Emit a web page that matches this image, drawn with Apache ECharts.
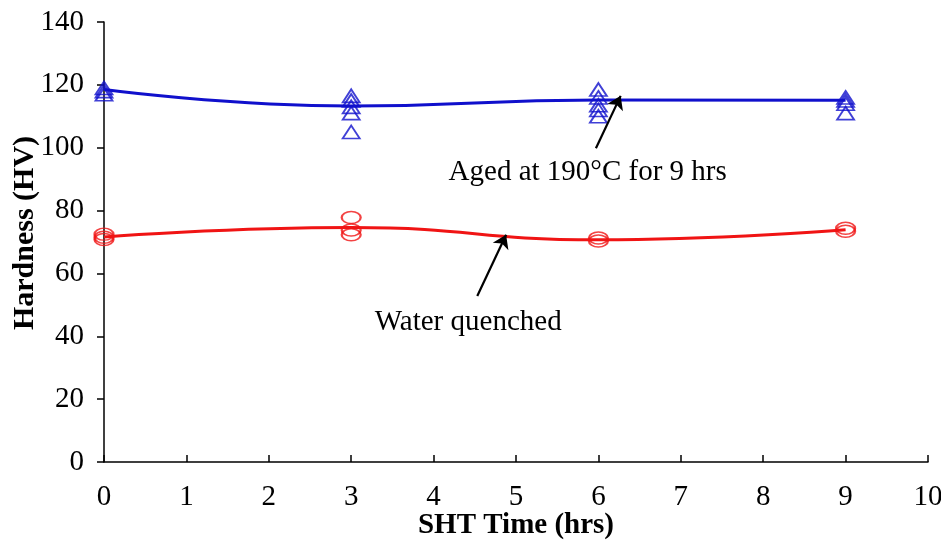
<!DOCTYPE html>
<html>
<head>
<meta charset="utf-8">
<script src="https://cdn.jsdelivr.net/npm/echarts@6/dist/echarts.min.js"></script>
<style>
  html, body { margin: 0; padding: 0; background: #fff; }
  #chart { width: 941px; height: 541px; }
</style>
</head>
<body>
<div id="chart"></div>
<script>
// SHT time points (hrs)
var shtTimes = [0, 3, 6, 9];
// fitted curves
var agedCurve = [118.5, 113.3, 115.2, 115.1];
var wqCurve = [71.6, 74.6, 70.7, 73.9];
// individual readings, one list per time point
var agedReadings = [
  [119, 118, 117],
  [116.5, 115, 113, 111, 105],
  [118.5, 116, 113.5, 112, 110],
  [116, 115, 114, 111]
];
var wqReadings = [
  [72.5, 71.5, 70.8],
  [77.8, 73.8, 72.3],
  [71.3, 70.3],
  [74.4, 73.4]
];
var xTicks = [0, 1, 2, 3, 4, 5, 6, 7, 8, 9, 10];
var yTicks = [0, 20, 40, 60, 80, 100, 120, 140];

var blue = '#1010cc';
var red = '#f01414';
var font = '"Liberation Serif", "Times New Roman", serif';

function toPoints(readings) {
  var out = [];
  readings.forEach(function (list, i) {
    list.forEach(function (v) { out.push([shtTimes[i], v]); });
  });
  return out;
}
function toLine(vals) {
  return vals.map(function (v, i) { return [shtTimes[i], v]; });
}

var chart = echarts.init(document.getElementById('chart'));
chart.setOption({
  animation: false,
  textStyle: { fontFamily: font },
  grid: { left: 104, right: 13, top: 22, bottom: 79, containLabel: false, outerBoundsMode: 'none' },
  xAxis: {
    type: 'value',
    min: 0, max: 10, interval: 1,
    name: 'SHT Time (hrs)',
    nameLocation: 'middle',
    nameGap: 49,
    nameMoveOverlap: false,
    nameTextStyle: { fontFamily: font, fontSize: 29, fontWeight: 'bold', color: '#000' },
    axisLine: { lineStyle: { color: '#000', width: 1.5 } },
    axisTick: { inside: true, length: 7, lineStyle: { color: '#000', width: 1.5 } },
    axisLabel: { fontFamily: font, fontSize: 29, color: '#000', margin: 21 },
    splitLine: { show: false }
  },
  yAxis: {
    type: 'value',
    min: 0, max: 140, interval: 20,
    name: 'Hardness (HV)',
    nameLocation: 'middle',
    nameGap: 64,
    nameMoveOverlap: false,
    nameTextStyle: { fontFamily: font, fontSize: 30, fontWeight: 'bold', color: '#000', padding: [0, 0, 0, 18] },
    axisLine: { show: true, lineStyle: { color: '#000', width: 1.5 } },
    axisTick: { show: true, length: 7, lineStyle: { color: '#000', width: 1.5 } },
    axisLabel: { fontFamily: font, fontSize: 29, color: '#000', margin: 20 },
    splitLine: { show: false }
  },
  series: [
    {
      name: 'aged curve',
      type: 'line',
      data: toLine(agedCurve),
      smooth: 0.5,
      showSymbol: false,
      lineStyle: { color: blue, width: 3 },
      markLine: {
        silent: true,
        symbol: ['none', 'arrow'],
        symbolSize: 13,
        lineStyle: { color: '#000', width: 2.2, type: 'solid' },
        label: { show: false },
        data: [
          [{ coord: [5.97, 99.8] }, { coord: [6.27, 116.5] }],
          [{ coord: [4.53, 52.8] }, { coord: [4.88, 72.3] }]
        ]
      }
    },
    {
      name: 'aged',
      type: 'scatter',
      data: toPoints(agedReadings),
      symbol: 'triangle',
      symbolSize: [17, 13],
      itemStyle: { color: 'transparent', borderColor: blue, borderWidth: 1.8 }
    },
    {
      name: 'wq curve',
      type: 'line',
      data: toLine(wqCurve),
      smooth: 0.5,
      showSymbol: false,
      lineStyle: { color: red, width: 3 }
    },
    {
      name: 'wq',
      type: 'scatter',
      data: toPoints(wqReadings),
      symbol: 'path://M0,6 A9,6 0 1,1 18,6 A9,6 0 1,1 0,6 Z',
      symbolSize: [19, 12],
      itemStyle: { color: 'transparent', borderColor: red, borderWidth: 1.8 }
    }
  ]
});

// annotation labels placed in data space
var notes = [
  { text: 'Aged at 190\u00B0C for 9 hrs', at: [5.87, 92.3] },
  { text: 'Water quenched', at: [4.42, 44.5] }
];
chart.setOption({
  graphic: notes.map(function (n) {
    var p = chart.convertToPixel({ gridIndex: 0 }, n.at);
    return {
      type: 'text',
      x: p[0], y: p[1],
      style: {
        text: n.text,
        fontFamily: font,
        fontSize: 29,
        fill: '#000',
        align: 'center',
        verticalAlign: 'middle'
      }
    };
  })
});
</script>
</body>
</html>
